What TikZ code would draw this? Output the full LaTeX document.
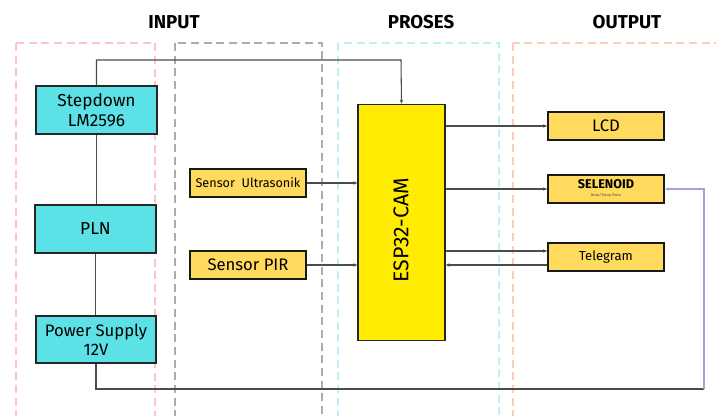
\documentclass[tikz,border=0pt]{standalone}
\usepackage{fontspec}
\setmainfont{Fira Sans}
\usetikzlibrary{arrows.meta}

\definecolor{boxcyan}{RGB}{91,225,230}
\definecolor{boxyellow}{RGB}{255,218,92}
\definecolor{espyellow}{RGB}{255,236,0}
\definecolor{colpink}{RGB}{255,196,196}
\definecolor{colgray}{RGB}{172,172,172}
\definecolor{colcyan}{RGB}{190,240,246}
\definecolor{colpeach}{RGB}{250,206,186}
\definecolor{wireblue}{RGB}{160,164,215}

\tikzset{every picture/.style={line width=0.75pt}}
\tikzset{
  colbox/.style={dash pattern=on 6pt off 3.5pt, line width=1.5pt},
  header/.style={font=\bfseries\fontsize{14}{16}\selectfont},
  powerbox/.style={draw=black!85, line width=1.1pt, fill=boxcyan, align=center,
    minimum width=90.75pt, minimum height=36pt, inner sep=1pt,
    font=\fontsize{13}{15}\selectfont},
  partbox/.style={draw=black!90, line width=1.3pt, fill=boxyellow, align=center,
    minimum width=87pt, minimum height=21pt, inner sep=1pt},
  wire/.style={draw=black!70, line width=0.8pt},
  arr/.style={wire, -{Stealth[length=3pt,width=2.5pt]}},
}

\begin{document}
\begin{tikzpicture}[x=0.75pt,y=0.75pt,yscale=-1,xscale=1]
	\clip (0,0) rectangle (716,416);
	\fill[white] (0,0) rectangle (716,416);

	%Dashed columns
	\draw[colbox, colpink] (16,43) rectangle (155,440);
	\draw[colbox, colgray] (175,43) rectangle (322,440);
	\draw[colbox, colcyan] (338,43) rectangle (499,440);
	\draw[colbox, colpeach] (513,43) rectangle (740,440);

	%Headers
	\node[header] (hinput) at (174,22) {INPUT};
	\node[header] (hproses) at (421,22) {PROSES};
	\node[header] (houtput) at (627,22) {OUTPUT};

	%Power side
	\node[powerbox] (step) at (96.5,110) {Stepdown\\LM2596};
	\node[powerbox] (pln) at (95.5,229) {PLN};
	\node[powerbox, minimum width=90pt, minimum height=35.25pt, font=\fontsize{12.5}{14.5}\selectfont] (psu) at (96,339.5) {Power Supply\\12V};

	%Sensors
	\node[partbox, font=\fontsize{9.5}{11}\selectfont] (ultra) at (248,183) {Sensor\ \ Ultrasonik};
	\node[partbox, font=\fontsize{12.5}{14}\selectfont] (pir) at (248,265) {Sensor PIR};

	%Controller
	\node[draw=black!85, line width=1.3pt, fill=espyellow, minimum width=65pt, minimum height=177pt] (esp) at (401.5,222.5) {};
	\node[rotate=90, font=\fontsize{16}{18}\selectfont] (esplabel) at (401,230) {ESP32-CAM};

	%Outputs
	\node[partbox, font=\fontsize{12.5}{14}\selectfont] (lcd) at (606,126) {LCD};
	\node[partbox] (sel) at (606,189) {};
	\node[font=\bfseries\fontsize{9.5}{10}\selectfont] (sellabel) at (606,184.5) {SELENOID};
	\node[font=\fontsize{2.8}{3}\selectfont, text=black!70] (selsub) at (606,195.5) {Buka/Tutup Pintu};
	\node[partbox, font=\fontsize{9.8}{11}\selectfont] (tele) at (606,257) {Telegram};

	%Wires
	\coordinate (topright) at (401,60);
	\coordinate (botright) at (704,389);
	\coordinate (telein) at ([yshift=-4.5pt]tele.west);
	\coordinate (teleout) at ([yshift=6pt]tele.west);
	\draw[arr] (step.north) |- (topright) -- (esp.north);
	\draw[wire] (step.south) -- (step.south |- pln.north);
	\draw[wire] (pln.south) -- (pln.south |- psu.north);
	\draw[wire] (psu.south) |- (botright);
	\draw[arr, draw=wireblue] (botright) |- (sel.east);

	\draw[arr] (ultra.east) -- (ultra.east -| esp.west);
	\draw[arr] (pir.east) -- (pir.east -| esp.west);

	\draw[arr] (esp.east |- lcd.west) -- (lcd.west);
	\draw[arr] (esp.east |- sel.west) -- (sel.west);
	\draw[arr] (esp.east |- telein) -- (telein);
	\draw[arr] (teleout) -- (teleout -| esp.east);
\end{tikzpicture}
\end{document}
